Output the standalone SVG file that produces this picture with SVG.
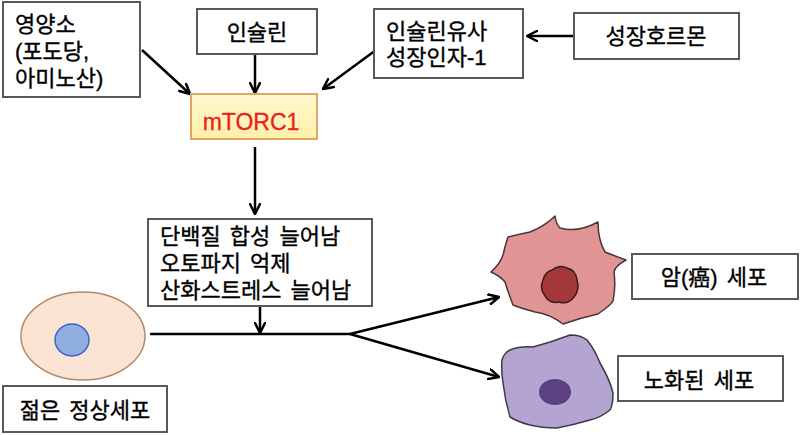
<svg xmlns="http://www.w3.org/2000/svg" width="800" height="435" viewBox="0 0 800 435">
<style>
.box{fill:#fff;stroke:#595959;stroke-width:2}
.t{font-family:"Liberation Sans","Noto Sans CJK KR",sans-serif;font-size:22px;word-spacing:3px;fill:#000;stroke:#000;stroke-width:0.35}
.c{stroke:#000;stroke-width:2.5;fill:none}
</style>
<defs>
<marker id="ah" viewBox="0 0 12 12" refX="11" refY="6" markerWidth="12" markerHeight="12" markerUnits="userSpaceOnUse" orient="auto">
<path d="M1,1 L11,6 L1,11" fill="none" stroke="#000" stroke-width="2.5" stroke-linecap="round" stroke-linejoin="round"/>
</marker>
<linearGradient id="yg" x1="0" y1="0" x2="0" y2="1">
<stop offset="0" stop-color="#FFF8D0"/>
<stop offset="1" stop-color="#FFEFA8"/>
</linearGradient>
</defs>
<rect width="800" height="435" fill="#fff"/>
<g id="connectors">
<line class="c" x1="142" y1="50" x2="190" y2="94" marker-end="url(#ah)"/>
<line class="c" x1="255" y1="55" x2="255" y2="93" marker-end="url(#ah)"/>
<line class="c" x1="376" y1="50" x2="323" y2="89" marker-end="url(#ah)"/>
<line class="c" x1="574" y1="36" x2="527" y2="36" marker-end="url(#ah)"/>
<line class="c" x1="255" y1="147" x2="255" y2="214" marker-end="url(#ah)"/>
<line class="c" x1="260" y1="306" x2="260" y2="333" marker-end="url(#ah)"/>
<line class="c" x1="150" y1="334" x2="350" y2="334"/>
<line class="c" x1="350" y1="334" x2="499" y2="297" marker-end="url(#ah)"/>
<line class="c" x1="350" y1="334" x2="499" y2="377" marker-end="url(#ah)"/>
</g>
<g id="nutrients">
<rect class="box" x="3" y="2" width="137" height="95"/>
<text class="t" x="15" y="32">영양소<tspan x="15" y="59">(포도당,</tspan><tspan x="15" y="86">아미노산)</tspan></text>
</g>
<g id="insulin">
<rect class="box" x="197" y="9" width="120" height="45"/>
<text class="t" x="257" y="40" text-anchor="middle">인슐린</text>
</g>
<g id="igf1">
<rect class="box" x="374" y="9" width="149" height="69"/>
<text class="t" x="386" y="39">인슐린유사<tspan x="386" y="65">성장인자-1</tspan></text>
</g>
<g id="gh">
<rect class="box" x="574" y="13" width="165" height="46"/>
<text class="t" x="656" y="44" text-anchor="middle">성장호르몬</text>
</g>
<g id="mtorc1">
<rect x="191" y="94" width="126" height="45" fill="url(#yg)" stroke="#E3A469" stroke-width="2"/>
<text x="251" y="130" text-anchor="middle" font-family="'Liberation Sans',sans-serif" font-size="23" fill="#E8201C" stroke="#E8201C" stroke-width="0.3">mTORC1</text>
</g>
<g id="effects">
<rect class="box" x="148" y="219" width="224" height="87"/>
<text class="t" x="160" y="244">단백질 합성 늘어남<tspan x="160" y="271">오토파지 억제</tspan><tspan x="160" y="298">산화스트레스 늘어남</tspan></text>
</g>
<g id="young-cell">
<ellipse cx="83" cy="336" rx="62" ry="44" fill="#FCE4D4" stroke="#B08A6A" stroke-width="1.5"/>
<ellipse cx="72" cy="340" rx="17" ry="16" fill="#8FADE0" stroke="#3C62C8" stroke-width="1.5"/>
</g>
<g id="young-label">
<rect class="box" x="3" y="386" width="164" height="46"/>
<text class="t" x="85" y="418" text-anchor="middle">젊은 정상세포</text>
</g>
<g id="cancer-cell">
<path d="M555,216 Q556,224 560,228 Q578,233 598,222 Q598,240 605,252 Q615,256 626,260 Q615,266 614,272 Q616,287 613,301 Q611,305 598,314 Q580,318 563,324 Q550,314 535,312 Q520,308 513,305 Q508,292 505,282 Q500,276 491,272 Q500,264 503,255 Q505,246 508,237 Q520,234 530,232 Q545,226 555,216 Z" fill="#E09494" stroke="#4a3535" stroke-width="1.5" stroke-linejoin="round"/>
<path d="M552,270 Q560,264 567,268 Q576,270 577,280 Q580,290 574,297 Q568,305 559,302 Q549,304 545,296 Q539,288 543,280 Q545,272 552,270 Z" fill="#A33838" stroke="#3a1a1a" stroke-width="1.5"/>
</g>
<g id="cancer-label">
<rect class="box" x="632" y="254" width="166" height="45"/>
<text class="t" x="714" y="285" text-anchor="middle">암(癌) 세포</text>
</g>
<g id="aged-cell">
<path d="M510,350 Q520,346 533,347 Q552,342 570,335 Q581,335 587,340 Q595,350 600,363 Q610,380 613,393 Q613,405 610,410 Q600,418 590,420 Q573,425 557,428 Q542,428 530,425 Q518,422 510,417 Q505,400 503,383 Q501,370 502,360 Q504,353 510,350 Z" fill="#B3A4D2" stroke="#3d3a45" stroke-width="1.5"/>
<ellipse cx="555" cy="392" rx="16" ry="13" fill="#5B4082"/>
</g>
<g id="aged-label">
<rect class="box" x="618" y="356" width="165" height="45"/>
<text class="t" x="699" y="388" text-anchor="middle">노화된 세포</text>
</g>
</svg>
